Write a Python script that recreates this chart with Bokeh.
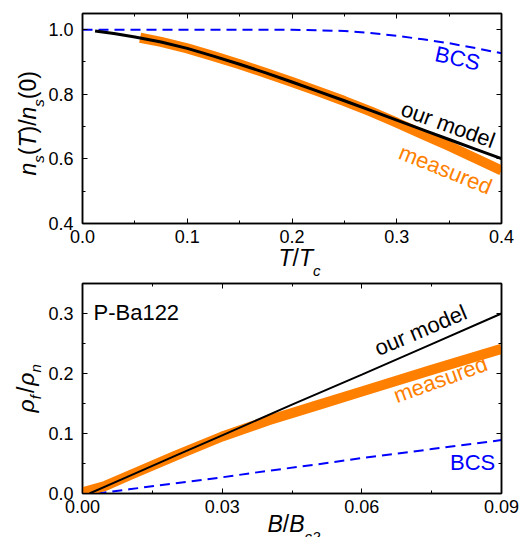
import numpy as np
from bokeh.plotting import figure
from bokeh.models import (LinearAxis, FixedTicker, NumeralTickFormatter,
                          CustomJSTickFormatter, Label, Range1d)
from bokeh.layouts import column
from bokeh.embed import file_html
from bokeh.resources import INLINE

FONT = "Liberation Sans"
ORANGE = "#FF7F00"
BLUE = "#0000FF"

# ---- upper panel: normalised superfluid density vs T/Tc ----
t_model = [0.012, 0.03, 0.05, 0.075, 0.1, 0.125, 0.15, 0.175, 0.2, 0.225,
           0.25, 0.275, 0.3, 0.325, 0.35, 0.375, 0.4]
ns_model = [0.996, 0.988, 0.977, 0.962, 0.942, 0.918, 0.893, 0.866, 0.838,
            0.809, 0.780, 0.750, 0.720, 0.690, 0.660, 0.630, 0.601]

t_meas = [0.055, 0.075, 0.1, 0.125, 0.15, 0.175, 0.2, 0.225, 0.25, 0.275,
          0.3, 0.325, 0.35, 0.375, 0.4]
ns_meas = [0.975, 0.962, 0.942, 0.918, 0.893, 0.866, 0.838, 0.809, 0.779,
           0.747, 0.712, 0.676, 0.640, 0.602, 0.564]

t_bcs = [0.0, 0.1, 0.2, 0.225, 0.25, 0.275, 0.3, 0.325, 0.35, 0.375, 0.4]
ns_bcs = [1.0, 1.0, 0.9995, 0.998, 0.996, 0.990, 0.981, 0.970, 0.958, 0.943, 0.927]

top_xticks = [0.0, 0.1, 0.2, 0.3, 0.4]
top_yticks = [0.4, 0.6, 0.8, 1.0]

# ---- lower panel: flux-flow resistivity vs B/Bc2 ----
b_model = [0.0015, 0.01, 0.02, 0.03, 0.045, 0.06, 0.075, 0.09]
rho_model = [0.0, 0.029, 0.063, 0.097, 0.148, 0.198, 0.249, 0.300]

b_meas = [0.0, 0.005, 0.01, 0.02, 0.03, 0.04, 0.05, 0.06, 0.075, 0.09]
rho_meas = [0.002, 0.013, 0.030, 0.063, 0.095, 0.122, 0.146, 0.170, 0.206, 0.241]

b_bcs = [0.003, 0.01, 0.02, 0.03, 0.04, 0.05, 0.06, 0.075, 0.09]
rho_bcs = [0.0, 0.007, 0.017, 0.027, 0.038, 0.048, 0.059, 0.074, 0.089]

bot_xticks = [0.0, 0.03, 0.06, 0.09]
bot_yticks = [0.0, 0.1, 0.2, 0.3]

# advance widths (em) of the glyphs used in the composed axis titles
ADV = {"n": 0.556, "s": 0.5, "(": 0.333, ")": 0.333, "T": 0.611, "/": 0.278,
       "0": 0.556, "ρ": 0.577, "f": 0.278, "c": 0.5, "2": 0.556, "B": 0.667}
# how far the drawn glyphs sit below their anchor, as a fraction of font size
BASE_SHIFT = 0.48

W, H = 526, 537


def midpoints(ticks):
    return [(a + b) / 2 for a, b in zip(ticks[:-1], ticks[1:])]


def style_axis(ax, ticks, fmt, labels=True):
    ax.ticker = FixedTicker(ticks=ticks, minor_ticks=midpoints(ticks))
    ax.axis_line_width = 1.5
    ax.axis_line_color = "black"
    ax.major_tick_in = 5
    ax.major_tick_out = 0
    ax.minor_tick_in = 3
    ax.minor_tick_out = 0
    ax.major_tick_line_width = 1
    ax.minor_tick_line_width = 1
    ax.major_label_text_font = FONT
    ax.major_label_text_color = "black"
    if labels:
        ax.formatter = NumeralTickFormatter(format=fmt)
        ax.major_label_text_font_size = "18px"
    else:
        ax.formatter = CustomJSTickFormatter(code="return ''")
        ax.major_label_text_font_size = "0px"
        ax.major_label_standoff = 0


def panel(xr, yr, xt, yt, xfmt, yfmt, top, bottom):
    p = figure(frame_width=419, frame_height=210,
               x_range=Range1d(*xr), y_range=Range1d(*yr),
               min_border_left=82, min_border_right=25,
               min_border_top=top, min_border_bottom=bottom,
               output_backend="svg", toolbar_location=None)
    p.grid.visible = False
    p.outline_line_color = "black"
    p.outline_line_width = 1.5
    p.background_fill_color = "white"
    p.border_fill_color = "white"
    style_axis(p.xaxis[0], xt, xfmt)
    style_axis(p.yaxis[0], yt, yfmt)
    p.xaxis[0].major_label_standoff = 6
    p.yaxis[0].major_label_standoff = 9
    up = LinearAxis()
    style_axis(up, xt, xfmt, labels=False)
    p.add_layout(up, "above")
    rt = LinearAxis()
    style_axis(rt, yt, yfmt, labels=False)
    p.add_layout(rt, "right")
    return p


def tag(p, x, y, text, color, deg=0.0, align="center", baseline="middle"):
    p.add_layout(Label(x=x, y=y, text=text, angle=np.deg2rad(deg),
                       text_font=FONT, text_font_size="22px", text_color=color,
                       text_align=align, text_baseline=baseline))


# ---------------- upper panel ----------------
p1 = panel((0.0, 0.4), (0.4, 1.05), top_xticks, top_yticks, "0.0", "0.0", 13, 55)
p1.line(t_bcs, ns_bcs, line_color=BLUE, line_width=2, line_dash="10 6")
p1.line(t_meas, ns_meas, line_color=ORANGE, line_width=10)
p1.line(t_model, ns_model, line_color="black", line_width=3)

tag(p1, 0.358, 0.911, "BCS", BLUE, -12.5)
tag(p1, 0.349, 0.706, "our model", "black", -20)
tag(p1, 0.3465, 0.567, "measured", ORANGE, -22)

# ---------------- lower panel ----------------
p2 = panel((0.0, 0.09), (0.0, 0.35), bot_xticks, bot_yticks, "0.00", "0.0", 5, 44)
p2.line(b_bcs, rho_bcs, line_color=BLUE, line_width=2, line_dash="10 6")
p2.line(b_meas, rho_meas, line_color=ORANGE, line_width=10)
p2.line(b_model, rho_model, line_color="black", line_width=2)

tag(p2, 0.00236, 0.301, "P-Ba122", "black", 0, align="left", baseline="alphabetic")
tag(p2, 0.0726, 0.272, "our model", "black", 23)
tag(p2, 0.0769, 0.190, "measured", ORANGE, 20)
tag(p2, 0.0838, 0.052, "BCS", BLUE, 0)

# ---------------- axis titles ----------------
# A transparent page-sized layer (pixel coordinates, y downwards) that carries
# the axis titles with their italics and subscripts.
titles = figure(width=W, height=H, x_range=Range1d(0, W), y_range=Range1d(H, 0),
                x_axis_type=None, y_axis_type=None, min_border=0,
                output_backend="svg", toolbar_location=None,
                margin=(-H, 0, 0, 0), frame_align=False)
titles.outline_line_color = None
titles.background_fill_alpha = 0
titles.border_fill_alpha = 0


def compose(pieces, x0, y0, vertical=False):
    """Lay out a title made of differently styled pieces (italics, subscripts)."""
    pos = 0.0
    for txt, size, italic, drop, gap in pieces:
        off = drop - BASE_SHIFT * size
        if vertical:
            x, y, ang = x0 + off, y0 - pos, np.pi / 2
        else:
            x, y, ang = x0 + pos, y0 + off, 0.0
        titles.add_layout(Label(x=x, y=y, text=txt, angle=ang, text_font=FONT,
                                text_font_size=f"{size}px",
                                text_font_style="italic" if italic else "normal",
                                text_align="left", text_baseline="alphabetic",
                                text_color="black"))
        pos += sum(ADV.get(c, 0.556) for c in txt) * size + gap


compose([("n", 23, True, 0, 0), ("s", 15, True, 6, 0), ("(", 23, False, 0, 0),
         ("T", 23, True, 0, 0), (")", 23, False, 0, 0), ("/", 23, False, 0, 0),
         ("n", 23, True, 0, 0), ("s", 15, True, 6, 0), ("(0)", 23, False, 0, 0)],
        39, 175, vertical=True)
compose([("T", 23, True, 0, 0), ("/", 23, False, 0, 0), ("T", 23, True, 0, 0),
         ("c", 15, True, 8, 0)], 278, 269)
compose([("ρ", 23, True, 0, 0), ("f", 15, True, 5, 2), ("/", 23, False, 0, 1),
         ("ρ", 23, True, 0, 0), ("n", 15, True, 5, 0)],
        37, 412, vertical=True)
compose([("B", 23, True, 0, 0), ("/", 23, False, 0, 0), ("B", 23, True, 0, 0),
         ("c2", 15, True, 8, 0)], 267, 535)

p = column(p1, p2, titles, spacing=0)
open("out.html", "w").write(file_html(p, INLINE))
